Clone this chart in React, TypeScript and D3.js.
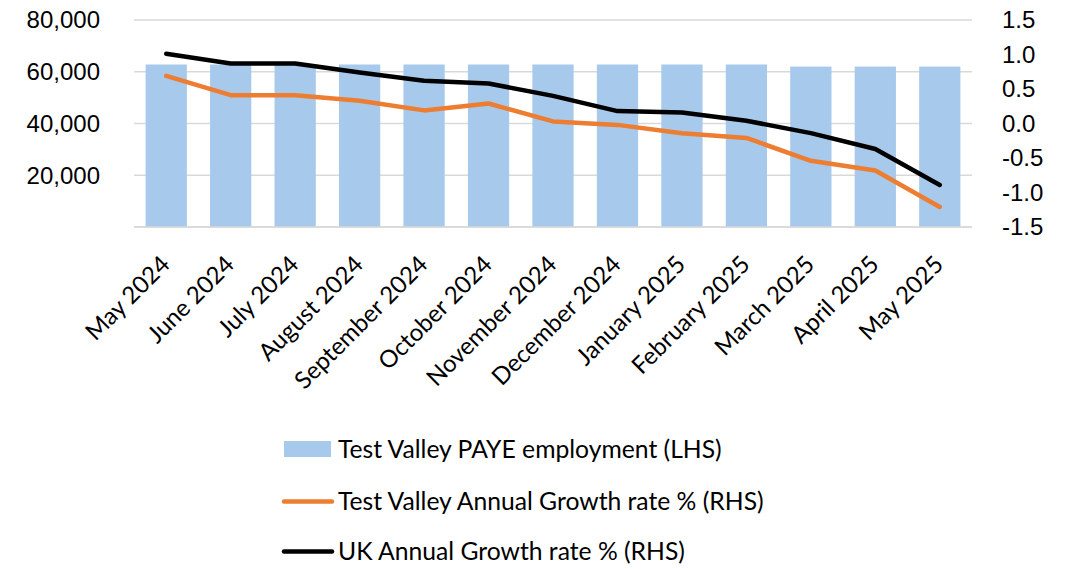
import React from "react";
import * as d3 from "d3";

const categories = [
  "May 2024", "June 2024", "July 2024", "August 2024", "September 2024",
  "October 2024", "November 2024", "December 2024", "January 2025",
  "February 2025", "March 2025", "April 2025", "May 2025",
];
const payeEmployment = [62800, 62800, 62800, 62800, 62800, 62800, 62800, 62800, 62800, 62800, 62000, 62000, 62000];
const tvGrowth = [0.69, 0.41, 0.41, 0.33, 0.19, 0.29, 0.03, -0.02, -0.14, -0.21, -0.54, -0.68, -1.21];
const ukGrowth = [1.01, 0.87, 0.87, 0.74, 0.62, 0.58, 0.40, 0.18, 0.16, 0.04, -0.14, -0.37, -0.89];
const leftTicks = [20000, 40000, 60000, 80000];
const rightTicks = [1.5, 1.0, 0.5, 0.0, -0.5, -1.0, -1.5];
const legendLabels = [
  "Test Valley PAYE employment (LHS)",
  "Test Valley Annual Growth rate % (RHS)",
  "UK Annual Growth rate % (RHS)",
];

const W = 1073, H = 569;
const plot = { left: 134, right: 972, top: 20, bottom: 227 };
const BAR = "#a7c9eb", ORANGE = "#ed7d31", BLACK = "#000000", GRID = "#d9d9d9";
const axisFont = "'Liberation Sans', Arial, sans-serif";
const catFont = "Lato, 'Open Sans', sans-serif";

export default function App() {
  const x = d3.scaleBand<string>().domain(categories).range([plot.left, plot.right]).paddingInner(0.36).paddingOuter(0.18);
  const yL = d3.scaleLinear().domain([0, 80000]).range([plot.bottom, plot.top]);
  const yR = d3.scaleLinear().domain([-1.5, 1.5]).range([plot.bottom, plot.top]);
  const cx = (i: number) => (x(categories[i]) as number) + x.bandwidth() / 2;
  const lineGen = (vals: number[]) =>
    d3.line<number>().x((_, i) => cx(i)).y((v) => yR(v))(vals) as string;
  const fmt = d3.format(",");
  const fmtR = (v: number) => d3.format(".1f")(v).replace("\u2212", "-");

  return (
    <div style={{ position: "absolute", left: 0, top: 0 }}>
      <svg width={W} height={H} style={{ display: "block", background: "#fff" }}>
        {[0, ...leftTicks].map((t) => (
          <line key={"g" + t} x1={plot.left} x2={plot.right} y1={yL(t)} y2={yL(t)} stroke={GRID} strokeWidth={1.5} />
        ))}
        {payeEmployment.map((v, i) => (
          <rect key={"b" + i} x={x(categories[i])} y={yL(v)} width={x.bandwidth()} height={yL(0) - yL(v)} fill={BAR} />
        ))}
        <line x1={plot.left} x2={plot.right} y1={yL(0)} y2={yL(0)} stroke={GRID} strokeWidth={1.5} />
        <path d={lineGen(tvGrowth)} fill="none" stroke={ORANGE} strokeWidth={4.5} strokeLinecap="round" strokeLinejoin="round" />
        <path d={lineGen(ukGrowth)} fill="none" stroke={BLACK} strokeWidth={4.5} strokeLinecap="round" strokeLinejoin="round" />
        {leftTicks.map((t) => (
          <text key={"l" + t} x={100} y={yL(t)} dy="0.35em" textAnchor="end" fontFamily={axisFont} fontSize={24} fill="#000">
            {fmt(t)}
          </text>
        ))}
        {rightTicks.map((t) => (
          <text key={"r" + t} x={1002} y={yR(t)} dy="0.35em" textAnchor="start" fontFamily={axisFont} fontSize={24} fill="#000">
            {fmtR(t)}
          </text>
        ))}
        {categories.map((c, i) => (
          <text key={"c" + c} transform={`translate(${cx(i) + 5},${266}) rotate(-45)`} textAnchor="end" fontFamily={catFont} fontSize={24} fill="#000">
            {c}
          </text>
        ))}
        <g fontFamily={catFont} fontSize={24.7} fill="#000">
          <rect x={284} y={441} width={47} height={16} fill={BAR} />
          <text x={338} y={449} dy="0.35em">{legendLabels[0]}</text>
          <line x1={284} x2={332} y1={501.5} y2={501.5} stroke={ORANGE} strokeWidth={4.5} strokeLinecap="round" />
          <text x={338} y={501.5} dy="0.35em">{legendLabels[1]}</text>
          <line x1={284} x2={332} y1={551.5} y2={551.5} stroke={BLACK} strokeWidth={4.5} strokeLinecap="round" />
          <text x={338} y={551.5} dy="0.35em">{legendLabels[2]}</text>
        </g>
      </svg>
    </div>
  );
}
